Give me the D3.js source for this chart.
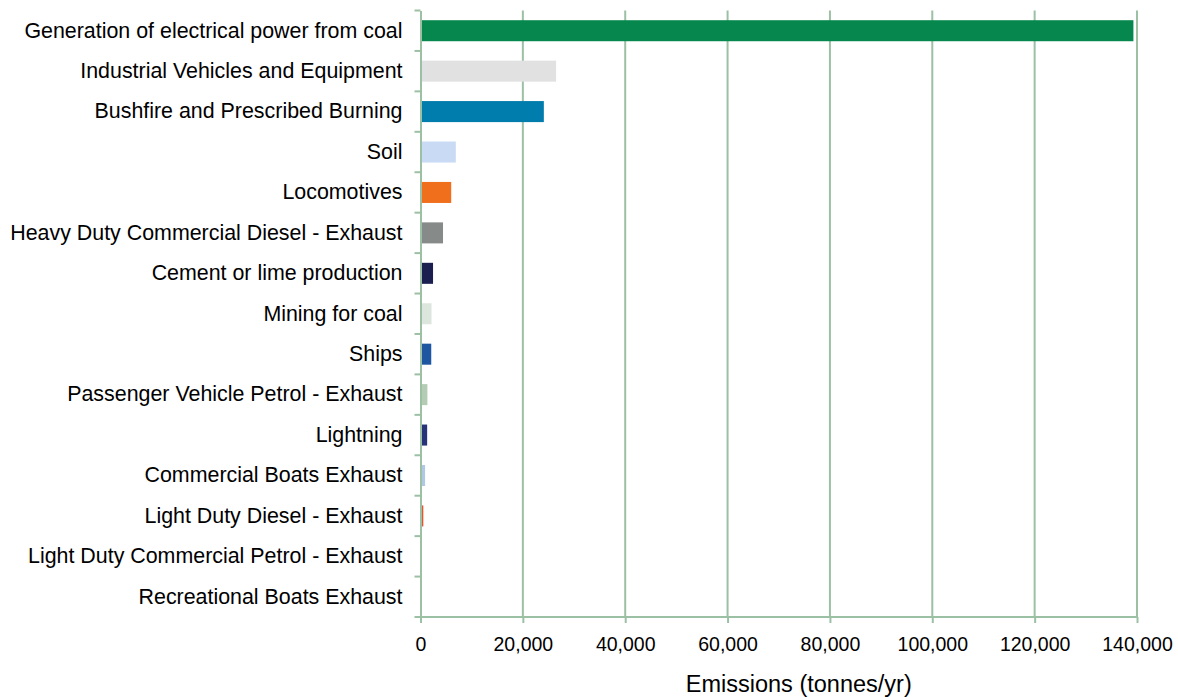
<!DOCTYPE html>
<html>
<head>
<meta charset="utf-8">
<script src="https://cdn.jsdelivr.net/npm/d3@7"></script>
<style>
  body { margin: 0; background: #fff; }
  text { font-family: "Liberation Sans", Arial, sans-serif; fill: #000; }
</style>
</head>
<body>
<div id="chart"></div>
<script>
var sources = [
  "Generation of electrical power from coal",
  "Industrial Vehicles and Equipment",
  "Bushfire and Prescribed Burning",
  "Soil",
  "Locomotives",
  "Heavy Duty Commercial Diesel - Exhaust",
  "Cement or lime production",
  "Mining for coal",
  "Ships",
  "Passenger Vehicle Petrol - Exhaust",
  "Lightning",
  "Commercial Boats Exhaust",
  "Light Duty Diesel - Exhaust",
  "Light Duty Commercial Petrol - Exhaust",
  "Recreational Boats Exhaust"
];
var emissions = [139300, 26500, 24100, 6900, 6000, 4400, 2450, 2150, 2100, 1350, 1300, 900, 550, 60, 40];
var barColors = [
  "#05874d", "#e0e1e0", "#007dad", "#c9daf4", "#ef6f1d",
  "#868a88", "#1b1f4f", "#dce6dc", "#1e56a2", "#b4ccb4",
  "#283278", "#b0c8e6", "#e8542a", "#d9d9d9", "#c0c0c0"
];
var xTicks = [0, 20000, 40000, 60000, 80000, 100000, 120000, 140000];

var W = 1178, H = 697;
var margin = { top: 10.5, right: 41, bottom: 80, left: 420.5 },
  width = W - margin.left - margin.right,
  height = H - margin.top - margin.bottom;
var gridColor = "#9cc0a4";

var svg = d3.select("#chart").append("svg")
  .attr("width", W).attr("height", H)
  .append("g")
  .attr("transform", "translate(" + margin.left + "," + margin.top + ")");

var x = d3.scaleLinear().domain([0, 140000]).range([0, width]);
var y = d3.scaleBand().domain(sources).range([0, height]).paddingInner(0.48).paddingOuter(0.24);

// vertical grid lines
svg.append("g")
  .selectAll("line")
  .data(xTicks.slice(1))
  .enter()
  .append("line")
  .attr("x1", (d) => x(d)).attr("x2", (d) => x(d))
  .attr("y1", 0).attr("y2", height)
  .attr("stroke", gridColor)
  .attr("stroke-width", 2);

// bars
svg.append("g")
  .selectAll("rect")
  .data(sources)
  .enter()
  .append("rect")
  .attr("x", x(0) + 1)
  .attr("y", (d) => y(d))
  .attr("width", (d, i) => Math.max(0, x(emissions[i]) - x(0) - 1))
  .attr("height", y.bandwidth())
  .attr("fill", (d, i) => barColors[i]);

// left axis
var yAxis = svg.append("g")
  .call(d3.axisLeft(y).tickSize(0).tickPadding(18));
yAxis.select(".domain").attr("stroke", gridColor).attr("stroke-width", 2);
yAxis.selectAll("text").style("font-size", "21.4px");

// category separators ticks on the left
var bounds = sources.map((d) => y(d) - y.step() * y.paddingInner() / 2).concat([height]);
bounds[0] = 0;
svg.append("g")
  .selectAll("line")
  .data(bounds)
  .enter()
  .append("line")
  .attr("x1", -6).attr("x2", 0)
  .attr("y1", (d) => d).attr("y2", (d) => d)
  .attr("stroke", gridColor)
  .attr("stroke-width", 2);

// bottom axis
var xAxis = svg.append("g")
  .attr("transform", "translate(0," + height + ")")
  .call(d3.axisBottom(x).tickValues(xTicks).tickSize(6).tickPadding(14).tickFormat(d3.format(",")));
xAxis.select(".domain").attr("stroke", gridColor).attr("stroke-width", 2).attr("d", "M0,0H" + width);
xAxis.selectAll(".tick line").attr("stroke", gridColor).attr("stroke-width", 2);
xAxis.selectAll("text").style("font-size", "19.5px");

svg.append("text")
  .attr("text-anchor", "middle")
  .attr("x", width / 2 + 20)
  .attr("y", height + 75)
  .style("font-size", "23.5px")
  .text("Emissions (tonnes/yr)");
</script>
</body>
</html>
